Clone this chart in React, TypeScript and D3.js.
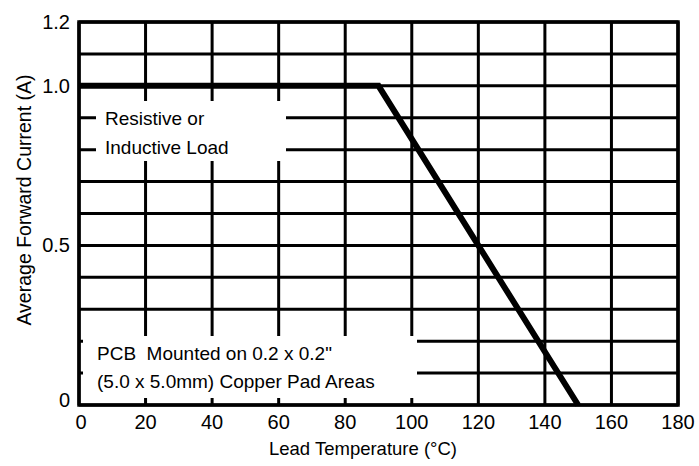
import React from "react";
import * as d3 from "d3";

const curveTemp = [0, 90, 150];
const curveCurrent = [1.0, 1.0, 0];
const xGrid = [0, 20, 40, 60, 80, 100, 120, 140, 160, 180];
const xTickLabels = ["0", "20", "40", "60", "80", "100", "120", "140", "160", "180"];
const yGrid = [0, 0.1, 0.2, 0.3, 0.4, 0.5, 0.6, 0.7, 0.8, 0.9, 1.0, 1.1, 1.2];
const yTickValues = [0, 0.5, 1.0, 1.2];
const yTickLabels = ["0", "0.5", "1.0", "1.2"];
const noteTop = ["Resistive or", "Inductive Load"];
const noteBottom = ["PCB \u00A0Mounted on 0.2 x 0.2\"", "(5.0 x 5.0mm) Copper Pad Areas"];
const xTitle = "Lead Temperature (°C)";
const yTitle = "Average Forward Current (A)";

const W = 699, H = 466;
const L = 79, R = 678, T = 22, B = 405;
const font = "'Liberation Sans', Arial, Helvetica, sans-serif";

export default function App() {
  const x = d3.scaleLinear().domain([0, 180]).range([L, R]);
  const y = d3.scaleLinear().domain([0, 1.2]).range([B, T]);
  const line = d3.line<number>().x((_, i) => x(curveTemp[i])).y((d) => y(d));
  return (
    <svg width={W} height={H} style={{ position: "absolute", left: 0, top: 0, background: "#fff" }}>
      <rect x={0} y={0} width={W} height={H} fill="#fff" />
      <g stroke="#000" strokeWidth={3}>
        {xGrid.map((v) => (
          <line key={"vx" + v} x1={x(v)} x2={x(v)} y1={T} y2={B} />
        ))}
        {yGrid.map((v) => (
          <line key={"hy" + v} x1={L} x2={R} y1={y(v)} y2={y(v)} />
        ))}
      </g>
      {/* text background boxes */}
      <rect x={96} y={101} width={190} height={60} fill="#fff" />
      <rect x={83} y={336} width={334} height={62} fill="#fff" />
      <rect x={L} y={T} width={R - L} height={B - T} fill="none" stroke="#000" strokeWidth={3.5} />
      <path d={line(curveCurrent) || ""} fill="none" stroke="#000" strokeWidth={6} strokeLinejoin="miter" />
      <g fontFamily={font} fontSize={19} fill="#000">
        <text x={105} y={125}>{noteTop[0]}</text>
        <text x={105} y={154}>{noteTop[1]}</text>
        <text x={97} y={360}>{noteBottom[0]}</text>
        <text x={97} y={388}>{noteBottom[1]}</text>
      </g>
      <g fontFamily={font} fontSize={20} fill="#000">
        {yTickValues.map((v, i) => (
          <text key={"yt" + v} x={70} y={y(v) + (v === 0 ? 2 : 7)} textAnchor="end">
            {yTickLabels[i]}
          </text>
        ))}
        {xGrid.map((v, i) => (
          <text key={"xt" + v} x={x(v) + (v === 0 ? 2 : 0)} y={429} textAnchor="middle">
            {xTickLabels[i]}
          </text>
        ))}
      </g>
      <text x={363} y={455} textAnchor="middle" fontFamily={font} fontSize={18.5} fill="#000">
        {xTitle}
      </text>
      <text
        transform={`translate(31, 200) rotate(-90)`}
        textAnchor="middle"
        fontFamily={font}
        fontSize={19.5}
        fill="#000"
      >
        {yTitle}
      </text>
    </svg>
  );
}
